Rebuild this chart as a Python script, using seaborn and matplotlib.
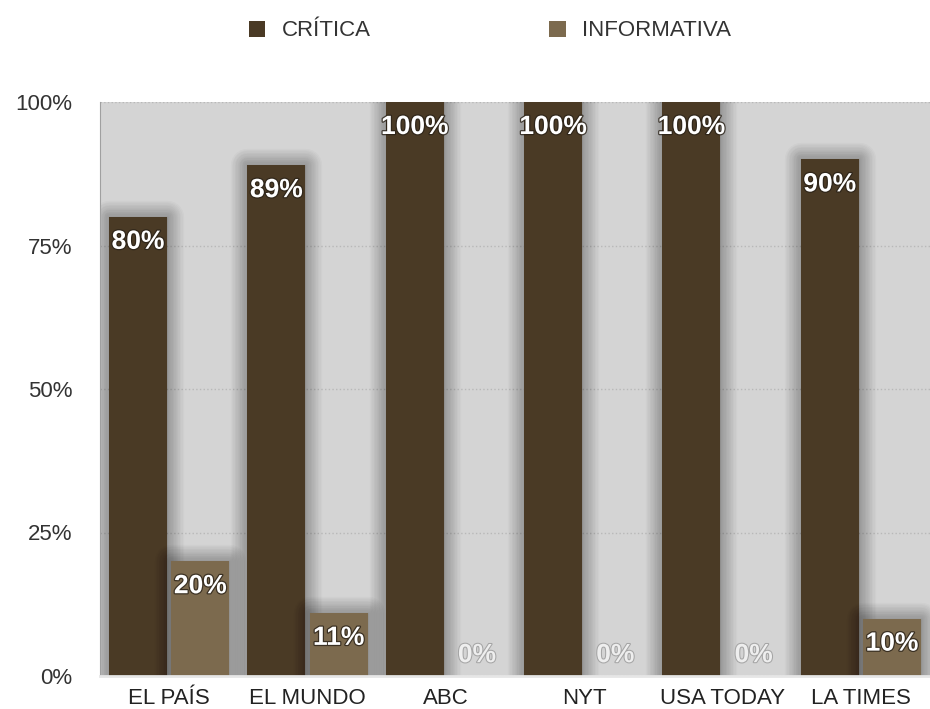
import numpy as np
import pandas as pd
import matplotlib
matplotlib.use("Agg")
from matplotlib import pyplot as plt
import matplotlib.patheffects as pe
import seaborn as sns

# data
periodicos = ["EL PAÍS", "EL MUNDO", "ABC", "NYT", "USA TODAY", "LA TIMES"]
critica = [80, 89, 100, 100, 100, 90]
informativa = [20, 11, 0, 0, 0, 10]
tipos = ["CRÍTICA", "INFORMATIVA"]
colores = ["#4a3a25", "#7c6a4e"]

df = pd.DataFrame({
    "periodico": periodicos * 2,
    "tipo": [tipos[0]] * len(periodicos) + [tipos[1]] * len(periodicos),
    "valor": critica + informativa,
})

sns.set_style("white")
plt.rcParams["font.family"] = ["Liberation Sans", "DejaVu Sans"]

fig = plt.figure(figsize=(9.3, 7.09), dpi=100)
ax = fig.add_axes([100 / 930, 33 / 709, 830 / 930, 574 / 709])
ax.set_facecolor("#d4d4d4")

sns.barplot(data=df, x="periodico", y="valor", hue="tipo", palette=colores,
            width=0.9, gap=0.07, saturation=1, linewidth=0, ax=ax)

# soft blurred shadow around the bars
sombra = [pe.Stroke(linewidth=w, foreground="black", alpha=0.022, joinstyle="round")
          for w in range(24, 1, -2)]
for cont in ax.containers:
    for bar in cont:
        if bar.get_height() > 0:
            bar.set_path_effects(sombra + [pe.Normal()])

ax.set_ylim(0, 100)
ax.set_yticks([0, 25, 50, 75, 100])
ax.set_yticklabels(["0%", "25%", "50%", "75%", "100%"], fontsize=16, color="#333333")
ax.tick_params(axis="y", length=0, pad=20)
ax.tick_params(axis="x", length=0, pad=9, labelsize=16, labelcolor="#222222")
ax.set_xlabel("")
ax.set_ylabel("")
ax.set_axisbelow(True)
ax.grid(axis="y", linestyle=":", color="#b8b8b8", linewidth=1)
for s in ["top", "right"]:
    ax.spines[s].set_visible(False)
ax.spines["left"].set_color("#a0a0a0")
ax.spines["bottom"].set_color("#e6e6e6")
ax.spines["bottom"].set_linewidth(2)

# labels on the bars
efecto = [pe.withStroke(linewidth=1.8, foreground="#2a2218", alpha=0.8)]
for cont in ax.containers:
    for bar in cont:
        h = bar.get_height()
        xc = bar.get_x() + bar.get_width() / 2
        if h > 0:
            ax.annotate(f"{h:.0f}%", (xc, h), xytext=(0, -18), textcoords="offset points",
                        ha="center", va="center", color="white", fontsize=19,
                        fontweight="bold", path_effects=efecto)
        else:
            ax.annotate(f"{h:.0f}%", (xc, 0), xytext=(0, 15), textcoords="offset points",
                        ha="center", va="center", color="#eeeeee", fontsize=19,
                        fontweight="bold",
                        path_effects=[pe.withStroke(linewidth=1.5, foreground="#a5a5a5")])

handles, labels = ax.get_legend_handles_labels()
ax.get_legend().remove()
fig.legend(handles, labels, loc="center", bbox_to_anchor=(490 / 930, 1 - 31 / 709),
           ncol=2, frameon=False, fontsize=16, handlelength=0.75, handleheight=0.75,
           handletextpad=0.75, columnspacing=8, labelcolor="#333333")

fig.savefig("out.png", dpi=100)
